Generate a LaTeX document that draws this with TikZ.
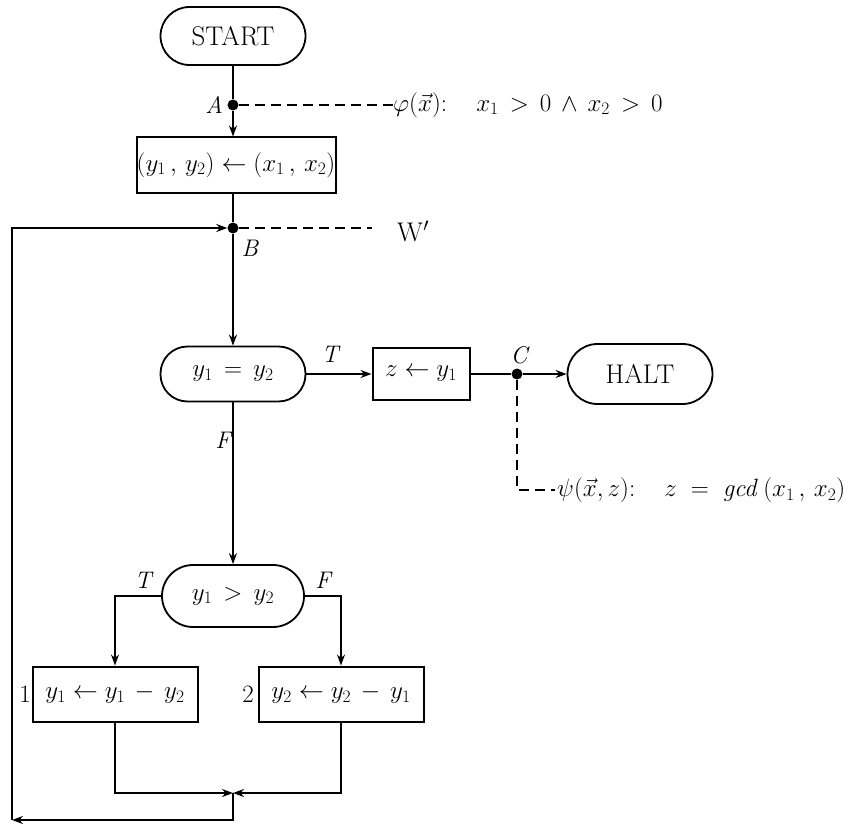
\RequirePackage{fix-cm}
\documentclass[tikz,border=0pt]{standalone}
\usetikzlibrary{arrows.meta}
\begin{document}
\begin{tikzpicture}[x=1pt,y=-1pt,
  every node/.style={inner sep=0pt, font=\fontsize{25}{30}\selectfont},
  flow/.style={line width=1.8pt},
  arr/.style={flow,-{Stealth[length=11pt,width=8pt]}},
  term/.style={draw,line width=1.8pt,rounded corners=29pt,minimum width=145pt,minimum height=58pt},
  proc/.style={draw,line width=2pt,minimum height=55pt},
  dotnode/.style={circle,fill,minimum size=11pt},
  anno/.style={line width=1.4pt,dash pattern=on 10pt off 6pt},
  lbl/.style={font=\fontsize{24}{28}\selectfont\itshape},
  bigtext/.style={font=\fontsize{27}{32}\selectfont}]
\useasboundingbox (0,0) rectangle (851,824);

% nodes
\node[term,bigtext] (start) at (233,36) {START};
\node[dotnode] (A) at (233,105) {};
\node[proc,minimum width=199pt] (assign) at (236,165) {$(y_1\,,\,y_2)\leftarrow(x_1\,,\,x_2)$};
\node[dotnode] (B) at (233,228) {};
\node[term,minimum height=55pt,rounded corners=27pt] (eq) at (233,374) {$y_1\,=\,y_2$};
\node[proc,minimum width=97pt,minimum height=52pt] (zbox) at (421,374) {$z\leftarrow y_1$};
\node[dotnode] (C) at (517,374) {};
\node[term,bigtext,minimum height=60pt,rounded corners=30pt] (halt) at (640,374) {HALT};
\node[term,minimum width=142pt,minimum height=62pt,rounded corners=31pt] (gt) at (233,596) {$y_1\,>\,y_2$};
\node[proc,minimum width=165pt] (b1) at (115,694) {$y_1\leftarrow y_1\,-\,y_2$};
\node[proc,minimum width=165pt] (b2) at (341,694) {$y_2\leftarrow y_2\,-\,y_1$};

\coordinate (gtl) at (115,596);
\coordinate (gtr) at (341,596);
\coordinate (b1d) at (115,793);
\coordinate (b2d) at (341,793);
\coordinate (m) at (233,793);
\coordinate (md) at (233,820);
\coordinate (bl) at (12,820);
\coordinate (tl) at (12,228);
\coordinate (adash) at (393,105);
\coordinate (bdash) at (372,228);
\coordinate (cdown) at (517,490);
\coordinate (cdash) at (555,490);

% labels
\node[lbl] (lA) at (214,105) {A};
\node[lbl] (lB) at (250,248) {B};
\node[lbl] (lT1) at (330,354) {T};
\node[lbl] (lC) at (519,355) {C};
\node[lbl] (lF1) at (223,440) {F};
\node[lbl] (lT2) at (143,580) {T};
\node[lbl] (lF2) at (323,580) {F};
\node (l1) at (25,694) {1};
\node (l2) at (248,694) {2};

\node[anchor=west] (phi) at (adash) {$\varphi(\vec{x})\colon\quad x_1\mskip3mu>\mskip3mu0\mskip3mu\wedge\mskip3mu x_2\mskip3mu>\mskip3mu0$};
\node[anchor=west,bigtext] (W) at ([xshift=25pt,yshift=-3pt]bdash) {$\mathrm{W}^{\prime}$};
\node[anchor=west] (psi) at ([xshift=2pt]cdash) {$\psi(\vec{x},z)\colon\quad z\;=\;\mathit{gcd}\,(x_1\,,\,x_2)$};

% connectors
\draw[flow] (start.south -| A) -- (A);
\draw[arr] (A) -- (A |- assign.north);
\draw[flow] (assign.south -| B) -- (B);
\draw[arr] (B) -- (eq);
\draw[arr] (eq) -- (zbox);
\draw[flow] (zbox) -- (C);
\draw[arr] (C) -- (halt);
\draw[arr] (eq) -- (gt);
\draw[arr] (gt.west) -- (gtl) -- (b1.north);
\draw[arr] (gt.east) -- (gtr) -- (b2.north);
\draw[arr] (b1.south) -- (b1d) -- (m);
\draw[arr] (b2.south) -- (b2d) -- (m);
\draw[arr] (m) -- (md) -- (bl);
\draw[arr] (bl) -- (tl) -- (B);

% annotations
\draw[anno] (A) -- (adash);
\draw[anno] (B) -- (bdash);
\draw[anno] (C) -- (cdown) -- (cdash);
\end{tikzpicture}
\end{document}
